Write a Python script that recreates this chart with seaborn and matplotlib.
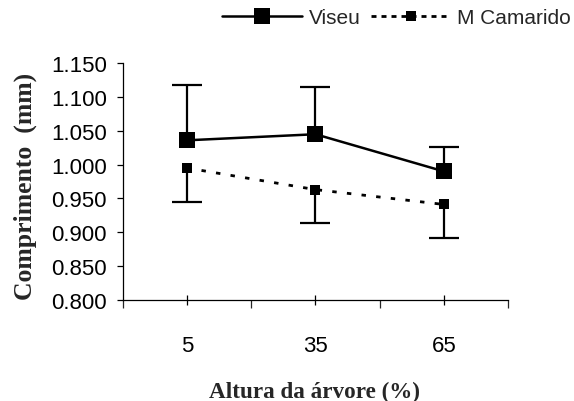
import numpy as np
import matplotlib
matplotlib.use("Agg")
import matplotlib.pyplot as plt
from matplotlib.lines import Line2D
from matplotlib.ticker import FixedLocator, FormatStrFormatter
import seaborn as sns

# data
alturas = ["5", "35", "65"]
viseu = [1.036, 1.045, 0.990]
viseu_err_up = [0.082, 0.070, 0.036]
camarido = [0.995, 0.963, 0.941]
camarido_err_down = [0.051, 0.050, 0.049]

sns.set_style("ticks")
plt.rcParams["font.family"] = ["Liberation Sans", "DejaVu Sans"]

fig = plt.figure(figsize=(5.74, 4.02), dpi=100)
ax = fig.add_axes([0.2138, 0.252, 0.6715, 0.588])

pos = np.arange(len(alturas))

# error bars first so the markers sit on top
eb = ax.errorbar(pos, viseu, yerr=[np.zeros(3), viseu_err_up], fmt="none",
                 ecolor="black", elinewidth=1.6, capsize=11, capthick=1.6, zorder=1)
eb[1][0].set_visible(False)
eb = ax.errorbar(pos, camarido, yerr=[camarido_err_down, np.zeros(3)], fmt="none",
                 ecolor="black", elinewidth=1.6, capsize=11, capthick=1.6, zorder=1)
eb[1][1].set_visible(False)

n0 = len(ax.lines)
sns.pointplot(x=alturas, y=viseu, color="black", markers="s", linestyles="-",
              errorbar=None, linewidth=1.8, markersize=11.5, markeredgewidth=0,
              ax=ax)
line_v = ax.lines[n0]
n0 = len(ax.lines)
sns.pointplot(x=alturas, y=camarido, color="black", markers="s", linestyles="-",
              errorbar=None, linewidth=2.0, markersize=7.5, markeredgewidth=0,
              ax=ax)
line_m = ax.lines[n0]
line_m.set_linestyle((0, (1.6, 3.7)))
line_v.set_zorder(3)
line_m.set_zorder(3)

ax.set_xlim(-0.5, 2.5)
ax.set_ylim(0.8, 1.15)
ax.set_yticks(np.arange(0.8, 1.1501, 0.05))
ax.yaxis.set_major_formatter(FormatStrFormatter("%.3f"))
ax.xaxis.set_minor_locator(FixedLocator([-0.5, 0.5, 1.5, 2.5]))

sns.despine(ax=ax)
for s in ["left", "bottom"]:
    ax.spines[s].set_linewidth(0.9)
    ax.spines[s].set_color("black")

ax.tick_params(axis="y", direction="out", length=4.5, width=0.9, pad=7,
               labelsize=16, colors="black")
ax.tick_params(axis="x", which="major", direction="inout", length=6.5, width=0.9,
               pad=22, labelsize=16, colors="black")
ax.tick_params(axis="x", which="minor", direction="out", length=5.5, width=0.9)

serif = ["Liberation Serif", "DejaVu Serif"]
ax.set_xlabel("Altura da árvore (%)", family=serif, fontweight="bold", fontsize=16.7)
ax.set_ylabel("Comprimento  (mm)", family=serif, fontweight="bold", fontsize=18.5)
ax.xaxis.set_label_coords(0.4965, -0.345)
ax.yaxis.set_label_coords(-0.222, 0.482)

# legend keys: the dotted key uses a tighter dash than the plotted line
key_v = Line2D([], [], color="black", lw=1.8, marker="s", markersize=11.5,
               markeredgewidth=0)
key_m = Line2D([], [], color="black", lw=2.0, ls=(0, (1.8, 1.8)), marker="s",
               markersize=7.5, markeredgewidth=0)
fig.legend([key_v, key_m], ["Viseu", "M Camarido"], loc="center left",
           bbox_to_anchor=(222 / 574, 1 - 19 / 402), ncol=2, frameon=False,
           fontsize=15, handlelength=3.85, handletextpad=0.3, columnspacing=0.5,
           borderpad=0, borderaxespad=0)

fig.savefig("out.png", dpi=100)
